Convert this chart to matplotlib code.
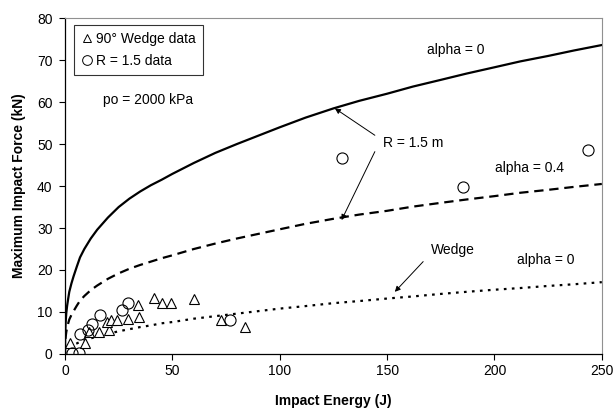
import matplotlib
matplotlib.use('Agg')
import matplotlib.pyplot as plt
from matplotlib.lines import Line2D

plt.rcParams['font.family'] = ['Liberation Sans', 'DejaVu Sans']

# theory curves
curve_E = [0, 0.1, 0.3, 0.6, 1, 1.5, 2, 3, 4, 5.5, 7, 9, 12, 15, 20, 25, 30, 35, 40, 45, 50,
           60, 70, 80, 90, 100, 112, 125, 137, 150, 162, 175, 187, 200, 212, 225, 237, 250]
sphere_a0 = [0, 4.5, 7.5, 9.7, 11.5, 13.2, 14.8, 16.8, 18.5, 20.8, 23, 25, 27.5, 29.6, 32.5, 35,
             37, 38.7, 40.2, 41.5, 42.9, 45.5, 47.9, 50, 52, 54, 56.3, 58.5, 60.3, 62, 63.7,
             65.3, 66.8, 68.3, 69.7, 71, 72.3, 73.6]
sphere_a04 = [0, 2.4, 4, 5.2, 6.3, 7.3, 8.2, 9.3, 10.2, 11.5, 12.7, 13.8, 15.2, 16.3, 17.9, 19.2,
              20.3, 21.2, 22.0, 22.8, 23.5, 25, 26.3, 27.5, 28.6, 29.7, 31.0, 32.2, 33.2, 34.1,
              35.1, 36, 36.8, 37.6, 38.4, 39.1, 39.8, 40.5]
wedge_a0 = [0, 0.35, 0.6, 0.85, 1.1, 1.3, 1.5, 1.85, 2.2, 2.5, 2.9, 3.25, 3.7, 4.2, 4.8, 5.4,
            5.9, 6.4, 6.8, 7.3, 7.6, 8.4, 9.0, 9.6, 10.2, 10.8, 11.4, 12.1, 12.6, 13.2, 13.7,
            14.3, 14.8, 15.3, 15.7, 16.2, 16.6, 17.1]

# test data
wedge_E = [2.3, 9.3, 11.3, 16, 20.6, 19.4, 21.3, 24.3, 29.5, 34.4, 34.1, 41.6, 45, 49.3, 60, 72.6, 83.8]
wedge_F = [2.5, 2.5, 5.3, 5.3, 5.7, 7.7, 8.1, 8.1, 8.3, 8.9, 11.7, 13.3, 12.1, 12.1, 13.0, 8.1, 6.3]
sphere_E = [3.1, 6.7, 7.0, 10.8, 12.7, 16.3, 26.4, 29.5, 76.8, 128.8, 185.3, 243.5]
sphere_F = [0.2, 0.2, 4.8, 5.7, 7.1, 9.3, 10.5, 12.2, 8.1, 46.6, 39.8, 48.6]

fig = plt.figure(figsize=(6.16, 4.13), dpi=100)
ax = fig.add_axes([0.1055, 0.143, 0.977 - 0.1055, 0.956 - 0.143])

ax.plot(curve_E, sphere_a0, color='black', lw=1.6)
ax.plot(curve_E, sphere_a04, color='black', lw=1.6, dashes=(4.2, 2.6))
ax.plot(curve_E, wedge_a0, color='black', lw=1.6, dashes=(1.2, 2.4))

ax.plot(wedge_E, wedge_F, linestyle='none', marker='^', ms=7, mfc='white', mec='black', mew=0.8)
ax.plot(sphere_E, sphere_F, linestyle='none', marker='o', ms=8, mfc='none', mec='black', mew=0.8)

ax.set_xlim(0, 250)
ax.set_ylim(0, 80)
ax.set_xticks([0, 50, 100, 150, 200, 250])
ax.set_yticks(range(0, 81, 10))
ax.tick_params(direction='out', length=4, width=0.8, labelsize=10)
ax.tick_params(axis='x', pad=3)
ax.tick_params(axis='y', pad=5)
for s in ['top', 'right']:
    ax.spines[s].set_color('#909090')
ax.spines['left'].set_linewidth(0.9)
ax.spines['bottom'].set_linewidth(0.9)

ax.set_xlabel('Impact Energy (J)', fontsize=10, fontweight='bold', labelpad=12)
ax.set_ylabel('Maximum Impact Force (kN)', fontsize=10, fontweight='bold', labelpad=8)

handles = [Line2D([], [], linestyle='none', marker='^', ms=6, mfc='white', mec='black', mew=0.7),
           Line2D([], [], linestyle='none', marker='o', ms=7, mfc='white', mec='black', mew=0.7)]
leg = ax.legend(handles, ['90° Wedge data', 'R = 1.5 data'], loc='upper left',
                bbox_to_anchor=(0.017, 0.979), fontsize=10, frameon=True, fancybox=False,
                edgecolor='black', handlelength=0.8, handletextpad=0.3, borderpad=0.5,
                labelspacing=0.55, borderaxespad=0)
leg.get_frame().set_linewidth(0.8)

ax.text(17.7, 60.5, 'po = 2000 kPa', fontsize=10, va='center')
ax.text(182, 72.4, 'alpha = 0', fontsize=10, ha='center', va='center')
ax.text(216.5, 44.3, 'alpha = 0.4', fontsize=10, ha='center', va='center')
ax.text(224, 22.4, 'alpha = 0', fontsize=10, ha='center', va='center')
ax.text(162, 50.2, 'R = 1.5 m', fontsize=10, ha='center', va='center')
ax.text(180.6, 24.8, 'Wedge', fontsize=10, ha='center', va='center')

arrow = dict(arrowstyle='-|>', color='black', lw=0.7, mutation_scale=8, shrinkA=0, shrinkB=0)
ax.annotate('', xy=(125.7, 58.5), xytext=(144.3, 52.1), arrowprops=arrow)
ax.annotate('', xy=(128.8, 31.9), xytext=(144.3, 48.2), arrowprops=arrow)
ax.annotate('', xy=(153.6, 14.8), xytext=(166.8, 22), arrowprops=arrow)

fig.savefig('out.png', dpi=100)
